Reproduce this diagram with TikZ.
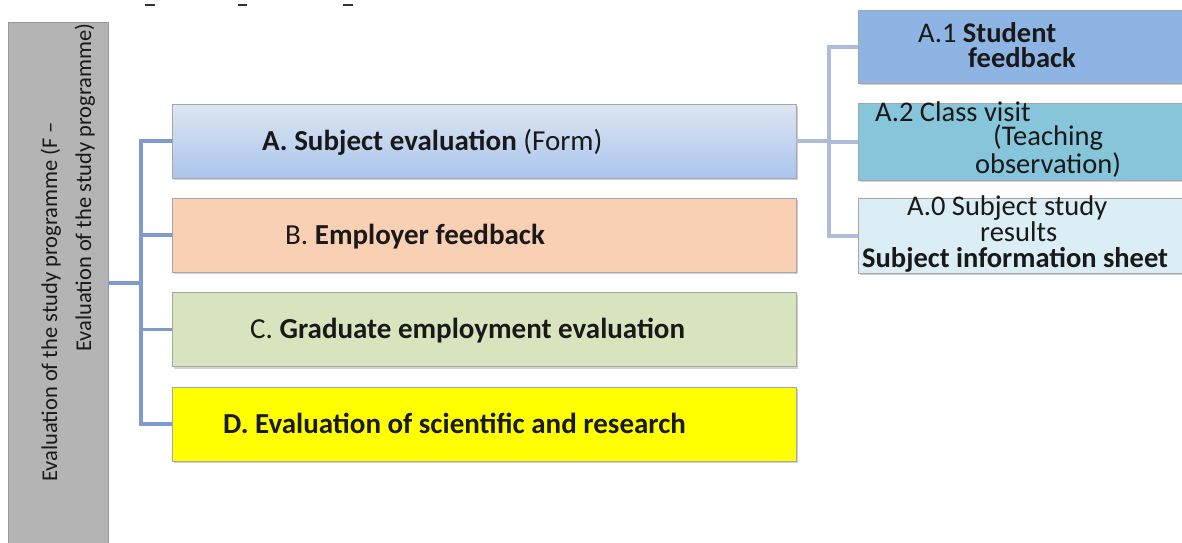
\documentclass[tikz,border=0pt]{standalone}
\usepackage{fontspec}
\setmainfont{Carlito}
\usetikzlibrary{shadows}
\definecolor{connl}{RGB}{125,155,205}
\definecolor{connr}{RGB}{172,188,218}
\definecolor{grayfill}{RGB}{180,180,180}
\definecolor{atop}{RGB}{222,230,242}
\definecolor{abot}{RGB}{170,197,236}
\definecolor{bfill}{RGB}{250,208,180}
\definecolor{cfill}{RGB}{216,228,190}
\definecolor{dfill}{RGB}{255,255,0}
\definecolor{aonefill}{RGB}{141,180,226}
\definecolor{atwofill}{RGB}{134,197,218}
\definecolor{azerofill}{RGB}{219,237,245}
\definecolor{txtc}{RGB}{25,25,25}
\tikzset{
  boxsh/.style={rectangle, inner sep=0pt, draw=black!35, line width=0.8pt,
    drop shadow={shadow xshift=1.5pt, shadow yshift=-2pt, opacity=0.35}},
  mainbox/.style={boxsh, minimum width=624pt, minimum height=74pt},
  sidebox/.style={boxsh, minimum width=326pt},
  connL/.style={draw=connl, line width=3.6pt},
  connR/.style={draw=connr, line width=4pt},
  lbl/.style={inner sep=0pt, anchor=base west, text=txtc, font=\fontsize{29}{32}\selectfont},
  slbl/.style={inner sep=0pt, anchor=base west, text=txtc, font=\fontsize{28.5}{30}\selectfont},
  glbl/.style={inner sep=0pt, anchor=base west, rotate=90, text=txtc, font=\fontsize{22.5}{26}\selectfont},
}
\begin{document}
\begin{tikzpicture}[x=1pt,y=-1pt]
\useasboundingbox (0,0) rectangle (1182,542);
\fill[white] (0,0) rectangle (1182,542);
% faint fragments at top
\draw[black!80, line width=2pt] (145,5) -- (155,5);
\draw[black!80, line width=2pt] (238,5) -- (247,5);
\draw[black!80, line width=2pt] (343,5) -- (353,5);

% left gray box
\node[rectangle, inner sep=0pt, draw=black!40, fill=grayfill, line width=0.8pt,
  minimum width=100pt, minimum height=540pt] (F) at (58,292) {};
\node[glbl] (F1) at (57,482) {Evaluation of the study programme (F –};
\node[glbl] (F2) at (91,352) {Evaluation of the study programme)};

% main boxes
\node[mainbox, top color=atop, bottom color=abot] (A) at (484,141) {};
\node[mainbox, fill=bfill] (B) at (484,235) {};
\node[mainbox, fill=cfill] (C) at (484,329.5) {};
\node[mainbox, fill=dfill] (D) at (484,424) {};

\node[lbl] (At) at (262,150) {\textbf{A. Subject evaluation} (Form)};
\node[lbl] (Bt) at (285,244) {B. \textbf{Employer feedback}};
\node[lbl] (Ct) at (250,338.5) {C. \textbf{Graduate employment evaluation}};
\node[lbl] (Dt) at (223,433) {\textbf{D. Evaluation of scientific and research}};

% side boxes
\node[sidebox, fill=aonefill, minimum height=73pt] (A1) at (1021,46.5) {};
\node[sidebox, fill=atwofill, minimum height=77pt] (A2) at (1021,141.5) {};
\node[sidebox, fill=azerofill, minimum height=75pt] (A0) at (1021,235.5) {};

\node[slbl] (A1a) at (918,42) {A.1 \textbf{Student}};
\node[slbl] (A1b) at (968,67) {\textbf{feedback}};
\node[slbl] (A2a) at (875,121) {A.2 Class visit};
\node[slbl] (A2b) at (993,145) {(Teaching};
\node[slbl] (A2c) at (975,173.5) {observation)};
\node[slbl] (A0a) at (907,215) {A.0 Subject study};
\node[slbl] (A0b) at (980,241) {results};
\node[slbl] (A0c) at (862,267) {\textbf{Subject information sheet}};

% connectors left
\coordinate (j) at (141,283);
\draw[connL] (F.east |- j) -- (j);
\draw[connL] (A.west) -- (A.west -| j) -- (D.west -| j) -- (D.west);
\draw[connL] (B.west -| j) -- (B.west);
\draw[connL] (C.west -| j) -- (C.west);

% connectors right
\coordinate (k) at (829,141);
\draw[connR] (A.east) -- (k);
\draw[connR] (A1.west) -- (A1.west -| k) -- (A0.west -| k) -- (A0.west);
\draw[connR] (A2.west -| k) -- (A2.west);
\end{tikzpicture}
\end{document}
